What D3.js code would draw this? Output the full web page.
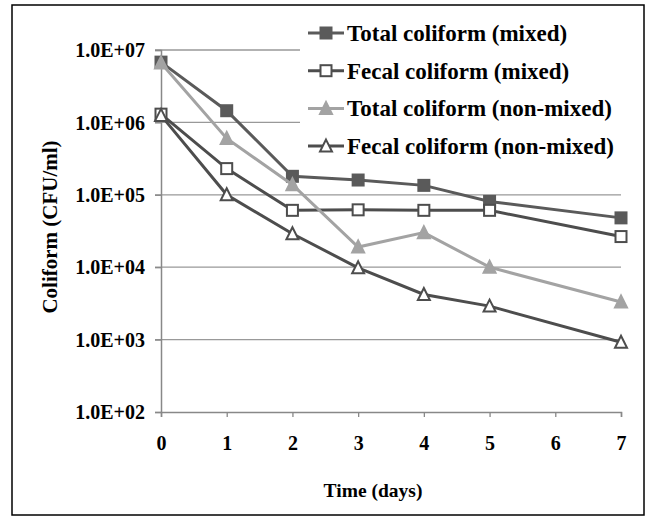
<!DOCTYPE html>
<html><head><meta charset="utf-8">
<script src="https://cdn.jsdelivr.net/npm/d3@7"></script>
<style>body{margin:0;background:#fff} svg text{font-family:"Liberation Serif","Times New Roman","DejaVu Serif",serif !important;font-weight:bold}</style>
</head><body>
<svg id="chart" width="652" height="521"></svg>
<script>
const days = [0,1,2,3,4,5,7];
const xTicks = [0,1,2,3,4,5,6,7];
const yTicks = [1e2,1e3,1e4,1e5,1e6,1e7];
const yTickLabels = ["1.0E+02","1.0E+03","1.0E+04","1.0E+05","1.0E+06","1.0E+07"];
const seriesNames = ["Total coliform (mixed)","Fecal coliform (mixed)","Total coliform (non-mixed)","Fecal coliform (non-mixed)"];
const totalMixed = [6.8e6,1.45e6,1.8e5,1.6e5,1.35e5,8.1e4,4.8e4];
const fecalMixed = [1.3e6,2.3e5,6.1e4,6.2e4,6.1e4,6.1e4,2.65e4];
const totalNonMixed = [6.6e6,6.0e5,1.38e5,1.9e4,3.0e4,1.0e4,3.3e3];
const fecalNonMixed = [1.25e6,1.0e5,2.9e4,9.8e3,4.2e3,2.9e3,9.2e2];

const series = [
  {name:seriesNames[0], values:totalMixed, color:"#5a5a5a", shape:"square", fill:true},
  {name:seriesNames[1], values:fecalMixed, color:"#4d4d4d", shape:"square", fill:false},
  {name:seriesNames[2], values:totalNonMixed, color:"#a3a3a3", shape:"triangle", fill:true},
  {name:seriesNames[3], values:fecalNonMixed, color:"#4d4d4d", shape:"triangle", fill:false}
];

const svg = d3.select("#chart");
svg.append("rect").attr("x",12).attr("y",5).attr("width",632).attr("height",510)
  .attr("fill","#fff").attr("stroke","#000").attr("stroke-width",1.5);

const x = d3.scaleLinear().domain([0,7]).range([161,621]);
const y = d3.scaleLog().domain([1e2,1e7]).range([412,50]);

// gridlines
svg.append("g").selectAll("line").data(yTicks.slice(1)).join("line")
  .attr("x1",155).attr("x2",621).attr("y1",d=>y(d)).attr("y2",d=>y(d))
  .attr("stroke","#999").attr("stroke-width",1.3);

// y axis
const yAxis = d3.axisLeft(y).tickValues(yTicks).tickSize(6)
  .tickFormat((d,i)=>yTickLabels[i]);
const gy = svg.append("g").attr("transform",`translate(${x(0)},0)`).call(yAxis);
gy.select(".domain").attr("stroke","#888").attr("stroke-width",1.5);
gy.selectAll(".tick line").attr("stroke","#888").attr("stroke-width",1.3);
gy.selectAll("text").attr("font-size",20).attr("fill","#000").attr("x",-16).attr("dy","0.33em");

// x axis
const xAxis = d3.axisBottom(x).tickValues(xTicks).tickSize(5).tickFormat(d3.format("d"));
const gx = svg.append("g").attr("transform",`translate(0,${y(1e2)})`).call(xAxis);
gx.select(".domain").attr("stroke","#888").attr("stroke-width",1.5);
gx.selectAll(".tick line").attr("stroke","#888").attr("stroke-width",1.3);
gx.selectAll("text").attr("font-size",20).attr("fill","#000").attr("y",38).attr("dy",0);

// titles
svg.append("text").attr("x",373).attr("y",497).attr("text-anchor","middle")
  .attr("font-size",19.5).text("Time (days)");
svg.append("text").attr("transform","translate(57,227) rotate(-90)").attr("text-anchor","middle")
  .attr("font-size",21).text("Coliform (CFU/ml)");

// legend background
svg.append("rect").attr("x",300).attr("y",12).attr("width",338).attr("height",154).attr("fill","#fff");

function drawMarker(g, s, cx, cy){
  if(s.shape==="square"){
    g.append("rect").attr("x",cx-5.5).attr("y",cy-5.5).attr("width",11).attr("height",11)
      .attr("fill",s.fill?s.color:"#fff").attr("stroke",s.color).attr("stroke-width",2);
  } else {
    const h=11, w=12;
    g.append("path").attr("d",`M${cx},${cy-h/2-1}L${cx+w/2},${cy+h/2}L${cx-w/2},${cy+h/2}Z`)
      .attr("fill",s.fill?s.color:"#fff").attr("stroke",s.color).attr("stroke-width",2)
      .attr("stroke-linejoin","miter");
  }
}

const line = d3.line().x((d,i)=>x(days[i])).y(d=>y(d));
series.forEach(s=>{
  const g = svg.append("g");
  g.append("path").datum(s.values).attr("d",line).attr("fill","none")
    .attr("stroke",s.color).attr("stroke-width",3);
  s.values.forEach((v,i)=>drawMarker(g,s,x(days[i]),y(v)));
});

// legend
series.forEach((s,i)=>{
  const ly = 33 + i*37.7;
  const g = svg.append("g");
  g.append("line").attr("x1",308).attr("x2",344).attr("y1",ly).attr("y2",ly)
    .attr("stroke",s.color).attr("stroke-width",3);
  drawMarker(g,s,326,ly);
  g.append("text").attr("x",347).attr("y",ly+8)
    .attr("font-size",23).attr("fill","#000").text(s.name);
});
</script>
</body></html>
